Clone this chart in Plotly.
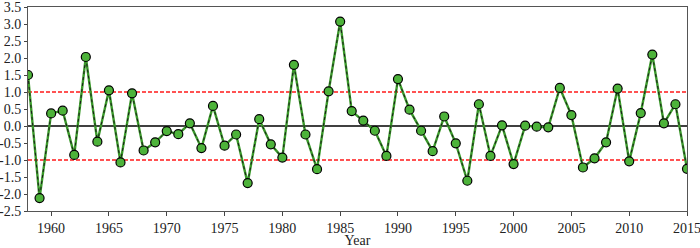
import plotly.graph_objects as go

years = list(range(1958, 2016))
values = [1.5, -2.12, 0.37, 0.45, -0.85, 2.03, -0.46, 1.05, -1.07, 0.96,
          -0.72, -0.48, -0.15, -0.24, 0.08, -0.65, 0.59, -0.58, -0.25, -1.68,
          0.2, -0.54, -0.93, 1.8, -0.25, -1.27, 1.02, 3.07, 0.44, 0.16,
          -0.14, -0.88, 1.38, 0.48, -0.14, -0.74, 0.28, -0.51, -1.61, 0.64,
          -0.88, 0.02, -1.12, 0.01, -0.02, -0.04, 1.12, 0.32, -1.22, -0.95,
          -0.48, 1.1, -1.04, 0.38, 2.1, 0.08, 0.64, -1.26]
y_ticks = [3.5, 3.0, 2.5, 2.0, 1.5, 1.0, 0.5, 0.0, -0.5, -1.0, -1.5, -2.0, -2.5]
y_tick_labels = ["3.5", "3.0", "2.5", "2.0", "1.5", "1.0", "0.5", "0.0",
                 "-0.5", "-1.0", "-1.5", "-2.0", "-2.5"]
x_ticks = [1960, 1965, 1970, 1975, 1980, 1985, 1990, 1995, 2000, 2005, 2010, 2015]
thresholds = [1.0, -1.0]

fig = go.Figure()
for t in thresholds:
    fig.add_hline(y=t, line=dict(color="#ff1a1a", width=1.3, dash="4px,2px"), layer="below")
fig.add_hline(y=0, line=dict(color="black", width=1.5), layer="below")

fig.add_trace(go.Scatter(x=years, y=values, mode="lines",
                         line=dict(color="#3a9a2a", width=2.4), hoverinfo="skip"))
fig.add_trace(go.Scatter(x=years, y=values, mode="lines+markers",
                         line=dict(color="#1a1a1a", width=1, dash="3px,3px"),
                         marker=dict(size=9, color="#4db33a",
                                     line=dict(color="black", width=1.2))))

font = dict(family="Liberation Serif, serif", size=14, color="#222")
fig.update_layout(
    width=700, height=248,
    margin=dict(l=28, r=13, t=7, b=37),
    plot_bgcolor="white", paper_bgcolor="white",
    showlegend=False, font=font,
    xaxis=dict(range=[1958, 2015], tickvals=x_ticks, ticks="outside", ticklen=4,
               showgrid=False, zeroline=False, showline=True, linecolor="#555",
               linewidth=1, mirror=True, automargin=False, tickfont=font,
               ticklabeloverflow="allow",
               title=dict(text="Year", font=font, standoff=1)),
    yaxis=dict(range=[-2.5, 3.5], tickvals=y_ticks, ticktext=y_tick_labels,
               ticks="outside", ticklen=3, showgrid=False, zeroline=False,
               showline=True, linecolor="#555", linewidth=1, mirror=True,
               automargin=False, tickfont=font, ticklabeloverflow="allow"),
)
fig.write_html("out.html", config={"displayModeBar": False},
               post_script="document.body.style.margin='0';document.body.style.padding='0';document.body.style.overflow='hidden';")
